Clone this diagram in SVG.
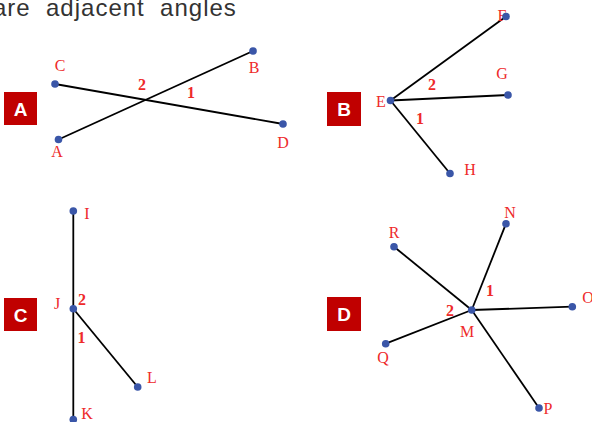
<svg xmlns="http://www.w3.org/2000/svg" width="592" height="422" viewBox="0 0 592 422">
<style>
.title{font-family:"Liberation Sans",Arial,sans-serif;font-size:24px;fill:#333;letter-spacing:1px}
.box{fill:#c00000}
.bl{font-family:"Liberation Sans",Arial,sans-serif;font-size:19px;font-weight:bold;fill:#fff;text-anchor:middle}
.lb{font-family:"Liberation Serif","Times New Roman",serif;font-size:16px;fill:#ee2a2a;text-anchor:middle}
.num{font-family:"Liberation Serif","Times New Roman",serif;font-size:16px;font-weight:bold;fill:#ee2a2a;text-anchor:middle}
.ln{stroke:#000;stroke-width:1.8;fill:none}
.dot{fill:#3a56a8}
</style>
<rect width="592" height="422" fill="#fff"/>
<text class="title" x="-7" y="16" xml:space="preserve">are  adjacent  angles</text>

<g id="connectors">
<line class="ln" x1="55" y1="84" x2="283" y2="124"/>
<line class="ln" x1="58.5" y1="139.5" x2="253" y2="51"/>
<line class="ln" x1="390.5" y1="100.5" x2="506" y2="16.5"/>
<line class="ln" x1="390.5" y1="100.5" x2="508" y2="95"/>
<line class="ln" x1="390.5" y1="100.5" x2="450" y2="173.5"/>
<line class="ln" x1="73.3" y1="211" x2="73.3" y2="420"/>
<line class="ln" x1="73.3" y1="308.7" x2="137.7" y2="387"/>
<line class="ln" x1="471.7" y1="310" x2="506" y2="223.7"/>
<line class="ln" x1="471.7" y1="310" x2="394" y2="246.7"/>
<line class="ln" x1="471.7" y1="310" x2="572.3" y2="306.7"/>
<line class="ln" x1="471.7" y1="310" x2="385.7" y2="343.7"/>
<line class="ln" x1="471.7" y1="310" x2="539" y2="408"/>
</g>

<g id="panelA">
<rect class="box" x="4" y="92" width="33" height="33"/>
<text class="bl" x="20.5" y="115.5">A</text>
<text class="num" x="142" y="90">2</text>
<text class="num" x="191" y="98">1</text>
</g>
<g id="C"><text class="lb" x="60" y="71">C</text><circle class="dot" cx="55" cy="84" r="3.8"/></g>
<g id="B"><text class="lb" x="254" y="73">B</text><circle class="dot" cx="253" cy="51" r="3.8"/></g>
<g id="A"><text class="lb" x="57" y="157">A</text><circle class="dot" cx="58.5" cy="139.5" r="3.8"/></g>
<g id="D"><text class="lb" x="283" y="148">D</text><circle class="dot" cx="283" cy="124" r="3.8"/></g>

<g id="panelB">
<rect class="box" x="327" y="92" width="34" height="34"/>
<text class="bl" x="344" y="116">B</text>
<text class="num" x="432" y="90">2</text>
<text class="num" x="420" y="124">1</text>
</g>
<g id="E"><text class="lb" x="381" y="107">E</text><circle class="dot" cx="390.5" cy="100.5" r="3.8"/></g>
<g id="F"><text class="lb" x="502" y="21">F</text><circle class="dot" cx="506" cy="16.5" r="3.8"/></g>
<g id="G"><text class="lb" x="502" y="79">G</text><circle class="dot" cx="508" cy="95" r="3.8"/></g>
<g id="H"><text class="lb" x="470" y="175">H</text><circle class="dot" cx="450" cy="173.5" r="3.8"/></g>

<g id="panelC">
<rect class="box" x="4" y="298" width="33" height="33"/>
<text class="bl" x="20.5" y="321.5">C</text>
<text class="num" x="82" y="305">2</text>
<text class="num" x="81.5" y="343">1</text>
</g>
<g id="I"><text class="lb" x="87" y="219">I</text><circle class="dot" cx="73.3" cy="211" r="3.8"/></g>
<g id="J"><text class="lb" x="57" y="309">J</text><circle class="dot" cx="73.3" cy="308.7" r="3.8"/></g>
<g id="K"><text class="lb" x="87" y="419">K</text><circle class="dot" cx="73.3" cy="419.5" r="3.8"/></g>
<g id="L"><text class="lb" x="152" y="383">L</text><circle class="dot" cx="137.7" cy="387" r="3.8"/></g>

<g id="panelD">
<rect class="box" x="327" y="297" width="34" height="34"/>
<text class="bl" x="344" y="321">D</text>
<text class="num" x="450" y="316">2</text>
<text class="num" x="490" y="296">1</text>
</g>
<g id="M"><text class="lb" x="467" y="337">M</text><circle class="dot" cx="471.7" cy="310" r="3.8"/></g>
<g id="N"><text class="lb" x="510" y="218">N</text><circle class="dot" cx="506" cy="223.7" r="3.8"/></g>
<g id="R"><text class="lb" x="394" y="238">R</text><circle class="dot" cx="394" cy="246.7" r="3.8"/></g>
<g id="O"><text class="lb" x="588" y="303">O</text><circle class="dot" cx="572.3" cy="306.7" r="3.8"/></g>
<g id="Q"><text class="lb" x="383" y="363">Q</text><circle class="dot" cx="385.7" cy="343.7" r="3.8"/></g>
<g id="P"><text class="lb" x="548" y="414">P</text><circle class="dot" cx="539" cy="408" r="3.8"/></g>
</svg>
